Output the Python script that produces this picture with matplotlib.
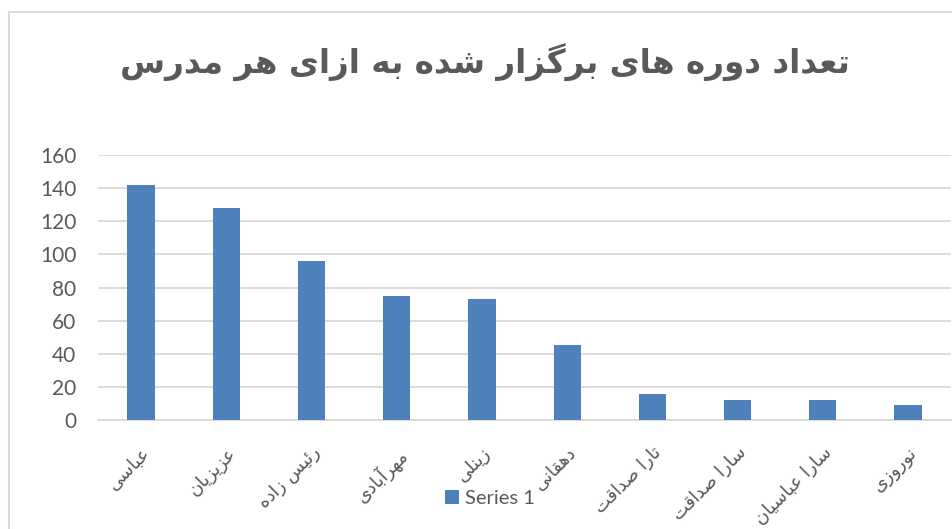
import matplotlib
matplotlib.use("Agg")
import matplotlib.pyplot as plt
from matplotlib.patches import Rectangle

title = "تعداد دوره های برگزار شده به ازای هر مدرس"
teachers = ["عباسی", "عزیزیان", "رئیس زاده", "مهرآبادی", "زینلی",
            "دهقانی", "تارا صداقت", "سارا صداقت", "سارا عباسیان", "نوروزی"]
courses = [142, 128, 96, 75, 73, 45, 16, 12, 12, 9]
series_name = "Series 1"
yticks = [0, 20, 40, 60, 80, 100, 120, 140, 160]

# contextual forms: isolated, final, initial, medial
forms = {
    "ا": (0xFE8D, 0xFE8E), "آ": (0xFE81, 0xFE82),
    "د": (0xFEA9, 0xFEAA), "ر": (0xFEAD, 0xFEAE),
    "ز": (0xFEAF, 0xFEB0), "و": (0xFEED, 0xFEEE),
    "ب": (0xFE8F, 0xFE90, 0xFE91, 0xFE92),
    "ت": (0xFE95, 0xFE96, 0xFE97, 0xFE98),
    "س": (0xFEB1, 0xFEB2, 0xFEB3, 0xFEB4),
    "ش": (0xFEB5, 0xFEB6, 0xFEB7, 0xFEB8),
    "ص": (0xFEB9, 0xFEBA, 0xFEBB, 0xFEBC),
    "ع": (0xFEC9, 0xFECA, 0xFECB, 0xFECC),
    "ف": (0xFED1, 0xFED2, 0xFED3, 0xFED4),
    "ق": (0xFED5, 0xFED6, 0xFED7, 0xFED8),
    "ل": (0xFEDD, 0xFEDE, 0xFEDF, 0xFEE0),
    "م": (0xFEE1, 0xFEE2, 0xFEE3, 0xFEE4),
    "ن": (0xFEE5, 0xFEE6, 0xFEE7, 0xFEE8),
    "ه": (0xFEE9, 0xFEEA, 0xFEEB, 0xFEEC),
    "ئ": (0xFE89, 0xFE8A, 0xFE8B, 0xFE8C),
    "ی": (0xFEEF, 0xFEF0, 0xFEF3, 0xFEF4),
    "گ": (0xFB92, 0xFB93, 0xFB94, 0xFB95),
}

def shape(s):
    out = []
    for i, c in enumerate(s):
        if c not in forms:
            out.append(c)
            continue
        f = forms[c]
        prev = s[i-1] if i > 0 else ""
        nxt = s[i+1] if i < len(s)-1 else ""
        jp = prev in forms and len(forms[prev]) == 4
        jn = len(f) == 4 and nxt in forms
        if jp and jn:
            k = 3
        elif jp:
            k = 1
        elif jn:
            k = 2
        else:
            k = 0
        out.append(chr(f[k]))
    return "".join(out)[::-1]

grey = "#595959"
fig = plt.figure(figsize=(9.53, 5.29), dpi=100)
ax = fig.add_axes([0.1033, 0.206, 0.8942, 0.501])

x = list(range(len(teachers)))
ax.bar(x, courses, width=0.32, color="#4F81BD", label=series_name, zorder=3)
ax.set_xlim(-0.5, len(teachers) - 0.5)
ax.set_ylim(0, 160)
ax.set_yticks(yticks)
ax.yaxis.grid(True, color="#D9D9D9", lw=1.3, zorder=0)
for s in ["top", "right", "left"]:
    ax.spines[s].set_visible(False)
ax.spines["bottom"].set_color("#D9D9D9")
ax.spines["bottom"].set_linewidth(1.3)
ax.tick_params(axis="both", length=0, colors=grey)
ax.tick_params(axis="y", labelsize=15, pad=16)
for t in ax.get_yticklabels():
    t.set_family("Lato")
ax.set_xticks(x)
ax.set_xticklabels([shape(t) for t in teachers], rotation=45, ha="right",
                   va="top", rotation_mode="anchor", fontsize=13,
                   family="DejaVu Sans", color=grey)
ax.tick_params(axis="x", pad=17)

fig.text(0.509, 0.882, shape(title), ha="center", va="center", fontsize=23.5,
         fontweight="bold", family="DejaVu Sans", color=grey)

leg = fig.legend(loc="center", bbox_to_anchor=(0.514, 0.058), frameon=False,
                 prop={"family": "Lato", "size": 14.5}, handlelength=0.7,
                 handleheight=0.7, handletextpad=0.3)
for t in leg.get_texts():
    t.set_color(grey)

fig.patches.append(Rectangle((9.5 / 953, -0.1), 1.2, 1 - 11.5 / 529 + 0.1,
                             transform=fig.transFigure, fill=False,
                             edgecolor="#D9D9D9", lw=1.5))
fig.savefig("out.png", dpi=100)
